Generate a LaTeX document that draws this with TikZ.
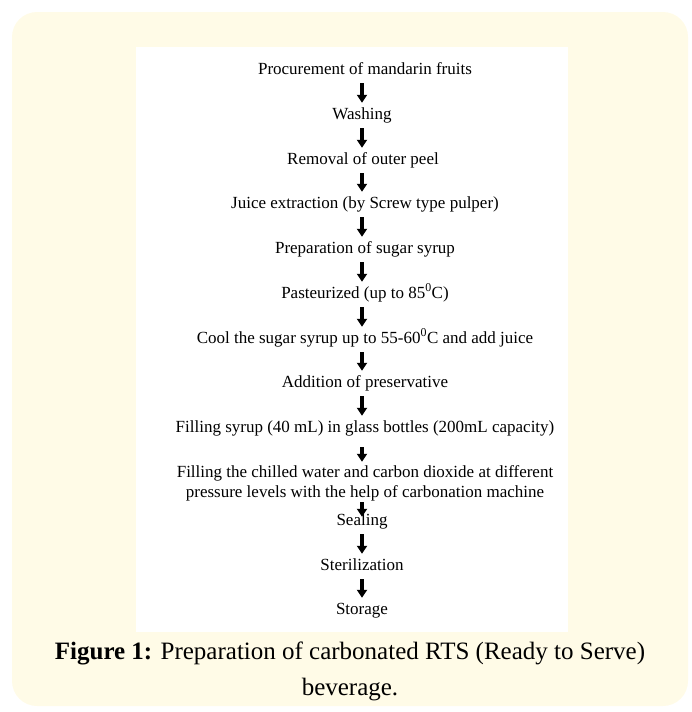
\documentclass[tikz,border=0pt]{standalone}
\usepackage{fontspec}
\setmainfont{Liberation Serif}
\usetikzlibrary{arrows.meta}
\definecolor{cream}{RGB}{255,251,231}
\tikzset{>={Triangle[width=10pt,length=8pt]}}
\tikzset{
  stepnode/.style={inner sep=0pt, text height=12pt, text depth=4pt,
    align=center, font=\fontsize{17}{19.5}\selectfont},
  twostep/.style={inner sep=0pt, align=center, font=\fontsize{17}{19.5}\selectfont},
  flow/.style={->, line width=4pt, shorten <=5pt, shorten >=4pt},
  capnode/.style={inner sep=0pt, font=\fontsize{25}{30}\selectfont}
}

\begin{document}
\begin{tikzpicture}[x=1pt,y=-1pt]
  \useasboundingbox (0,0) rectangle (691,712);

  \fill [cream, rounded corners=25pt] (12,12) rectangle (688,706);
  \fill [white] (136,47) rectangle (568,632);

  \node [stepnode] (s1) at (365,70) {Procurement of mandarin fruits};
  \node [stepnode] (s2) at (362,115) {Washing};
  \node [stepnode] (s3) at (363,160) {Removal of outer peel};
  \node [stepnode] (s4) at (365,204) {Juice extraction (by Screw type pulper)};
  \node [stepnode] (s5) at (365,249) {Preparation of sugar syrup};
  \node [stepnode] (s6) at (365,294) {Pasteurized (up to 85\textsuperscript{0}C)};
  \node [stepnode] (s7) at (365,339)
    {Cool the sugar syrup up to 55-60\textsuperscript{0}C and add juice};
  \node [stepnode] (s8) at (365,383) {Addition of preservative};
  \node [stepnode] (s9) at (365,428)
    {Filling syrup (40 mL) in glass bottles (200mL capacity)};
  \node [twostep] (s10) at (365,483.5)
    {Filling the chilled water and carbon dioxide at different\\
     pressure levels with the help of carbonation machine};
  \node [stepnode] (s11) at (362,521) {Sealing};
  \node [stepnode] (s12) at (362,566) {Sterilization};
  \node [stepnode] (s13) at (362,610) {Storage};

  \foreach \a/\b in {s1/s2,s2/s3,s3/s4,s4/s5,s5/s6,s6/s7,s7/s8,s8/s9,s11/s12,s12/s13}
    \draw [flow] (\a.south -| 362,0) -- (\b.north -| 362,0);
  \draw [flow, shorten <=11pt, shorten >=4pt] (s9.south -| 362,0) -- (s10.north -| 362,0);
  \draw [flow, shorten <=1pt, shorten >=-4pt] (s10.south -| 362,0) -- (s11.north -| 362,0);

  \node [capnode] (cap1) at (350,653)
    {\textbf{Figure 1:} Preparation of carbonated RTS (Ready to Serve)};
  \node [capnode] (cap2) at (350,690) {beverage.};
\end{tikzpicture}
\end{document}
